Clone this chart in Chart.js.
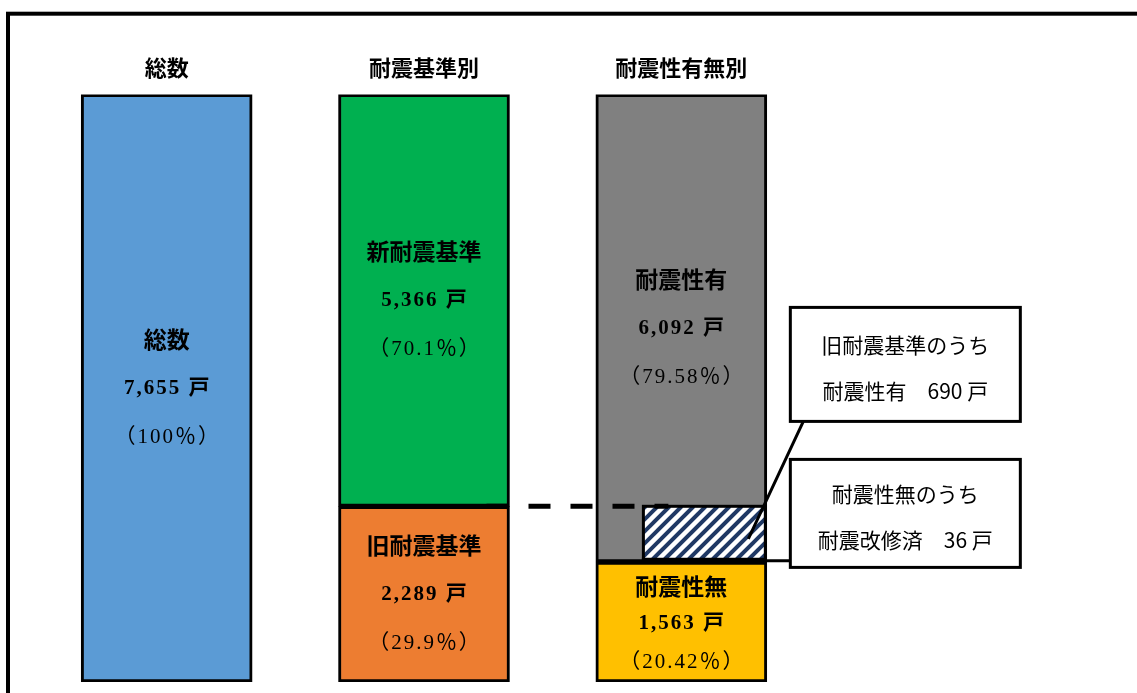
<!DOCTYPE html>
<html>
<head>
<meta charset="utf-8">
<script src="https://cdn.jsdelivr.net/npm/chart.js@4"></script>
<style>
  body { margin: 0; background: #fff; }
</style>
</head>
<body>
<canvas id="chart" width="1137" height="693"></canvas>
<script>
// categories (column titles)
const categories = ['総数', '耐震基準別', '耐震性有無別'];

// stacked segments, bottom to top (units = 戸)
const totalUnits   = [7655, null, null];   // 総数
const oldStdUnits  = [null, 2289, null];   // 旧耐震基準
const newStdUnits  = [null, 5366, null];   // 新耐震基準
const noSeisUnits  = [null, null, 1563];   // 耐震性無
const yesSeisUnits = [null, null, 6092];   // 耐震性有

const segmentNames  = ['総数', '旧耐震基準', '新耐震基準', '耐震性無', '耐震性有'];
const segmentShares = ['100%', '29.9%', '70.1%', '20.42%', '79.58%'];
const segmentColors = ['#5b9bd5', '#ed7d31', '#00b050', '#ffc000', '#808080'];

// hatched parts inside 耐震性有, stacked on top of 耐震性無
const hatchNames  = ['耐震改修済', '旧耐震基準のうち耐震性有'];
const hatchUnits  = [36, 690];
const hatchColors = ['#00b0f0', '#1f3864'];

const calloutTitles = ['旧耐震基準のうち', '耐震性無のうち'];
const calloutNames  = ['耐震性有', '耐震改修済'];
const calloutUnits  = [690, 36];

const fmt = v => v.toLocaleString('en-US');

const frame = {
  id: 'frame',
  beforeDraw(chart) {
    const c = chart.ctx;
    c.save();
    c.fillStyle = '#fff';
    c.fillRect(0, 0, chart.width, chart.height);
    c.strokeStyle = '#000';
    c.lineWidth = 4;
    c.strokeRect(8, 13.7, chart.width + 40, chart.height + 40);
    c.restore();
  }
};

function hatchRect(c, x0, y0, x1, y1, color) {
  c.save();
  c.fillStyle = '#fff';
  c.fillRect(x0, y0, x1 - x0, y1 - y0);
  c.beginPath();
  c.rect(x0, y0, x1 - x0, y1 - y0);
  c.clip();
  c.strokeStyle = color;
  c.lineWidth = 4;
  const step = 12;
  for (let k = Math.floor((x0 + y0) / step) - 1; k * step < x1 + y1 + step; k++) {
    c.beginPath();
    c.moveTo(k * step - y1, y1);
    c.lineTo(k * step - y0, y0);
    c.stroke();
  }
  c.restore();
  c.save();
  c.strokeStyle = '#000';
  c.lineWidth = 3;
  c.strokeRect(x0, y0, x1 - x0, y1 - y0);
  c.restore();
}

const overlay = {
  id: 'overlay',
  afterDatasetsDraw(chart) {
    const c = chart.ctx;
    const y = chart.scales.y;
    const bar2 = chart.getDatasetMeta(1).data[1];
    const bar3 = chart.getDatasetMeta(4).data[2];
    const left3 = bar3.x - bar3.width / 2;
    const right3 = bar3.x + bar3.width / 2;
    const hx0 = left3 + bar3.width * 47 / 169;
    const hx1 = right3 - 1.5;

    // hatched parts
    let base = noSeisUnits[2];
    const rects = [];
    hatchUnits.forEach((v, i) => {
      const yb = y.getPixelForValue(base);
      const yt = y.getPixelForValue(base + v);
      hatchRect(c, hx0, yt, hx1, yb, hatchColors[i]);
      rects.push({ top: yt, bottom: yb });
      base += v;
    });
    chart.$hatch = { x0: hx0, x1: hx1, rects };

    // dashed line at the 旧耐震基準 level
    const yOld = y.getPixelForValue(oldStdUnits[1]);
    c.save();
    c.strokeStyle = '#000';
    c.lineWidth = 5;
    c.setLineDash([22, 20]);
    c.beginPath();
    c.moveTo(bar2.x + bar2.width / 2 - 23, yOld);
    c.lineTo(hx0 + 25, yOld);
    c.stroke();
    c.restore();

    // labels inside segments
    c.save();
    c.fillStyle = '#000';
    c.textAlign = 'center';
    c.textBaseline = 'middle';
    chart.data.datasets.forEach((ds, di) => {
      const meta = chart.getDatasetMeta(di);
      meta.data.forEach((bar, i) => {
        const v = ds.data[i];
        if (v == null) return;
        const segH = Math.abs(bar.base - bar.y);
        const gap = Math.min(49, (segH - 44) / 2);
        const cy = (bar.y + bar.base) / 2 + (gap < 49 ? 2 : 0);
        c.letterSpacing = '0px';
        c.font = 'bold 23px "Noto Sans CJK JP", sans-serif';
        c.fillText(segmentNames[di], bar.x, cy - gap);
        c.letterSpacing = '2px';
        c.font = 'bold 21px "Liberation Serif", "Noto Sans CJK JP", serif';
        c.fillText(fmt(v) + ' 戸', bar.x + 1, cy);
        c.font = '21px "Liberation Serif", "Noto Sans CJK JP", serif';
        c.fillText('（' + segmentShares[di].replace('%', '％') + '）', bar.x + 1, cy + gap);
      });
    });
    c.letterSpacing = '0px';
    c.restore();
  },
  afterDraw(chart) {
    const c = chart.ctx;
    const area = chart.chartArea;
    const bar3 = chart.getDatasetMeta(4).data[2];
    const h = chart.$hatch;
    const bx = bar3.x + bar3.width / 2 + 23.5;
    const bw = 230;
    const boxes = [
      { top: area.top + 213, height: 114 },
      { top: area.top + 365, height: 108 }
    ];
    // connectors: box 0 -> 690 part, box 1 -> 36 part
    const navy = h.rects[1];
    const light = h.rects[0];
    c.save();
    c.strokeStyle = '#000';
    c.lineWidth = 3;
    c.beginPath();
    c.moveTo(bx + 13, boxes[0].top + boxes[0].height);
    c.lineTo(h.x1 - 17, (navy.top + navy.bottom) / 2 + 6);
    c.moveTo(bx, (light.top + light.bottom) / 2);
    c.lineTo(h.x1 - 17, (light.top + light.bottom) / 2);
    c.stroke();

    boxes.forEach((b, i) => {
      c.fillStyle = '#fff';
      c.fillRect(bx, b.top, bw, b.height);
      c.strokeRect(bx, b.top, bw, b.height);
      c.fillStyle = '#000';
      c.textAlign = 'center';
      c.textBaseline = 'middle';
      c.font = '21px "Noto Sans CJK JP", sans-serif';
      const cx = bx + bw / 2;
      const cy = b.top + b.height / 2;
      c.fillText(calloutTitles[i], cx, cy - 19);
      c.fillText(calloutNames[i] + '　' + fmt(calloutUnits[i]) + ' 戸', cx, cy + 27);
    });
    c.restore();
  }
};

const mk = (i, data) => ({
  label: segmentNames[i],
  data: data,
  backgroundColor: segmentColors[i],
  borderColor: '#000',
  borderWidth: 3,
  borderSkipped: false,
  stack: 's'
});

new Chart(document.getElementById('chart'), {
  type: 'bar',
  data: {
    labels: categories,
    datasets: [
      mk(0, totalUnits),
      mk(1, oldStdUnits),
      mk(2, newStdUnits),
      mk(3, noSeisUnits),
      mk(4, yesSeisUnits)
    ]
  },
  options: {
    responsive: false,
    devicePixelRatio: 1,
    animation: false,
    barThickness: 171,
    layout: { padding: { left: 38, right: 327, top: 40, bottom: 11 } },
    plugins: {
      legend: { display: false },
      tooltip: { enabled: false }
    },
    scales: {
      x: {
        position: 'top',
        stacked: true,
        grid: { display: false, drawTicks: false },
        border: { display: false },
        ticks: {
          color: '#000',
          padding: 14,
          font: { family: '"Noto Sans CJK JP", sans-serif', size: 22, weight: 'bold' }
        }
      },
      y: {
        display: false,
        stacked: true,
        min: 0,
        max: 7655
      }
    }
  },
  plugins: [frame, overlay]
});
</script>
</body>
</html>
